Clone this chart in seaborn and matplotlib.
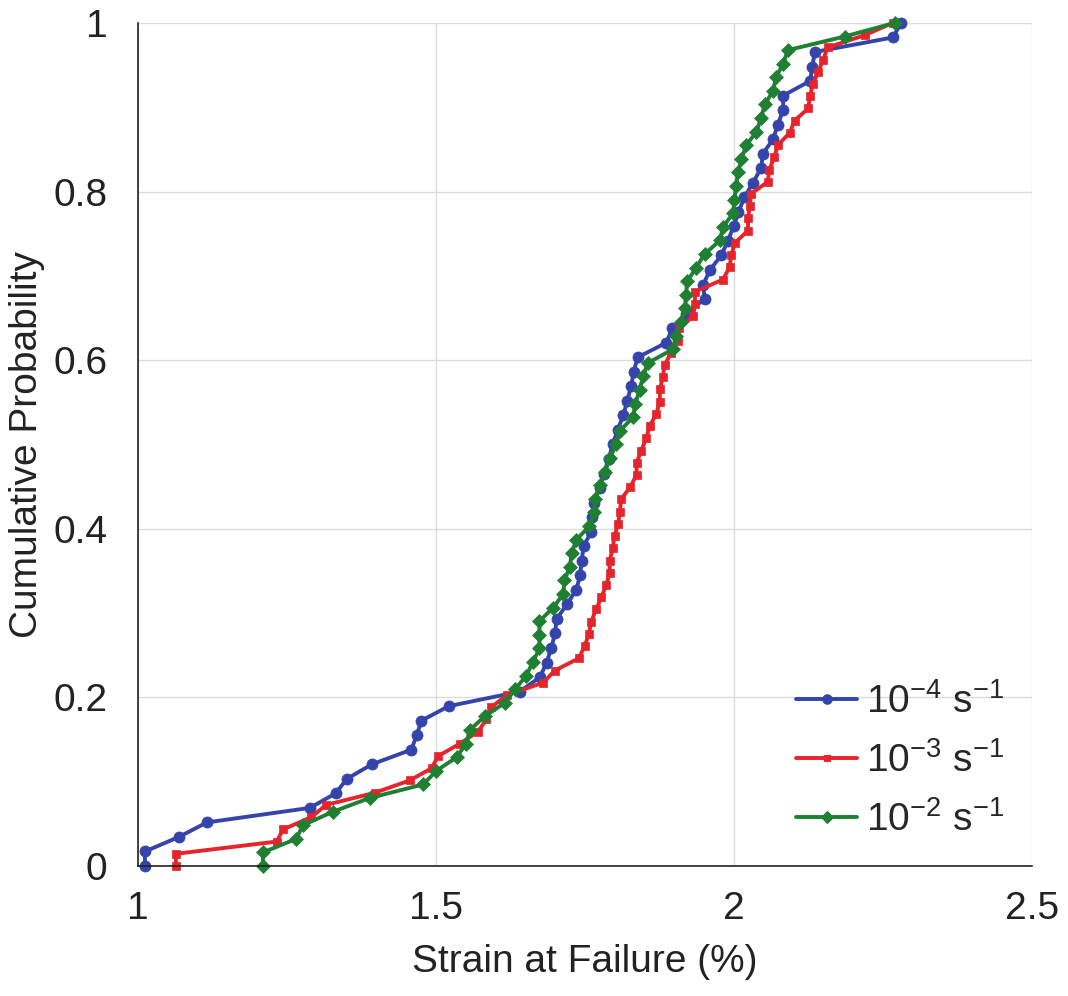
import numpy as np
import pandas as pd
import matplotlib
matplotlib.use("Agg")
import matplotlib.pyplot as plt
import seaborn as sns

# Strain at failure (%) for each strain rate, in cumulative order
strain_1e4 = [1.012, 1.012, 1.069, 1.116, 1.289, 1.332, 1.351, 1.393, 1.459, 1.468,
              1.476, 1.522, 1.641, 1.675, 1.686, 1.694, 1.700, 1.703, 1.720, 1.736,
              1.742, 1.745, 1.748, 1.761, 1.763, 1.765, 1.775, 1.782, 1.790, 1.797,
              1.805, 1.815, 1.821, 1.828, 1.832, 1.839, 1.887, 1.897, 1.920, 1.951,
              1.949, 1.960, 1.979, 1.990, 2.000, 2.008, 2.018, 2.032, 2.046, 2.049,
              2.066, 2.074, 2.083, 2.083, 2.128, 2.132, 2.136, 2.267, 2.281]
strain_1e3 = [1.064, 1.064, 1.233, 1.244, 1.291, 1.316, 1.398, 1.456, 1.493, 1.504,
              1.540, 1.571, 1.585, 1.593, 1.620, 1.680, 1.700, 1.740, 1.750, 1.757,
              1.761, 1.769, 1.778, 1.786, 1.792, 1.792, 1.797, 1.800, 1.806, 1.809,
              1.811, 1.826, 1.837, 1.837, 1.845, 1.853, 1.859, 1.870, 1.876, 1.876,
              1.881, 1.884, 1.895, 1.906, 1.909, 1.932, 1.935, 1.935, 1.982, 1.993,
              1.996, 2.002, 2.024, 2.024, 2.027, 2.029, 2.057, 2.060, 2.068, 2.074,
              2.094, 2.102, 2.125, 2.128, 2.133, 2.142, 2.150, 2.158, 2.220, 2.267]
strain_1e2 = [1.210, 1.210, 1.266, 1.277, 1.328, 1.389, 1.479, 1.501, 1.535, 1.551,
              1.557, 1.582, 1.616, 1.633, 1.652, 1.663, 1.674, 1.674, 1.674, 1.697,
              1.714, 1.716, 1.725, 1.728, 1.736, 1.758, 1.766, 1.768, 1.775, 1.784,
              1.792, 1.803, 1.809, 1.831, 1.835, 1.842, 1.848, 1.856, 1.898, 1.903,
              1.912, 1.918, 1.920, 1.922, 1.937, 1.951, 1.977, 1.982, 1.999, 2.001,
              2.004, 2.007, 2.013, 2.021, 2.038, 2.046, 2.052, 2.066, 2.071, 2.083,
              2.091, 2.186, 2.270]

labels = [r"$10^{-4}$ s$^{-1}$", r"$10^{-3}$ s$^{-1}$", r"$10^{-2}$ s$^{-1}$"]
colors = ["#3444AA", "#E5252B", "#1F8034"]
markers = ["o", "s", "D"]
x_ticks = [1, 1.5, 2, 2.5]
x_ticklabels = ["1", "1.5", "2", "2.5"]
y_ticks = [0, 0.2, 0.4, 0.6, 0.8, 1]
y_ticklabels = ["0", "0.2", "0.4", "0.6", "0.8", "1"]

frames = []
for lab, s in zip(labels, [strain_1e4, strain_1e3, strain_1e2]):
    n = len(s)
    frames.append(pd.DataFrame({
        "strain": s,
        "prob": np.arange(n) / (n - 1),   # empirical cumulative probability
        "rate": lab,
    }))
df = pd.concat(frames, ignore_index=True)

sns.set_style("white")
plt.rcParams["font.family"] = ["Liberation Sans", "DejaVu Sans"]
plt.rcParams["mathtext.fontset"] = "custom"
plt.rcParams["mathtext.rm"] = "Liberation Sans"
plt.rcParams["mathtext.it"] = "Liberation Sans"

fig = plt.figure(figsize=(10.68, 9.96), dpi=100)
ax = fig.add_axes([0.129, 0.1305, 0.837, 0.8465])

sns.lineplot(data=df, x="strain", y="prob", hue="rate", style="rate",
             palette=dict(zip(labels, colors)), markers=dict(zip(labels, markers)),
             dashes=False, estimator=None, sort=False, units="rate",
             linewidth=2.8, ax=ax)

msizes = {"o": 8, "s": 5.5, "D": 7.5}
for line, m, c in zip(ax.lines, markers, colors):
    line.set_markersize(msizes[m])
    line.set_markeredgecolor(c)
    line.set_markerfacecolor(c)
    line.set_markeredgewidth(0.5)
    line.set_clip_on(False)

ax.set_xlim(1, 2.5)
ax.set_ylim(0, 1)
ax.set_xticks(x_ticks)
ax.set_xticklabels(x_ticklabels)
ax.set_yticks(y_ticks)
ax.set_yticklabels(y_ticklabels)
ax.grid(True, color="#dcdcdc", linewidth=1.0)
ax.set_axisbelow(True)
for side in ["top", "right"]:
    ax.spines[side].set_visible(False)
for side in ["left", "bottom"]:
    ax.spines[side].set_color("#222222")
    ax.spines[side].set_linewidth(1.2)
ax.tick_params(direction="in", length=7, width=1.2, labelsize=28, colors="#222222")
ax.tick_params(axis="y", pad=22)
ax.tick_params(axis="x", pad=18)
ax.set_xlabel("Strain at Failure (%)", fontsize=28, color="#222222", labelpad=12)
ax.set_ylabel("Cumulative Probability", fontsize=28, color="#222222", labelpad=6)

handles, labs = ax.get_legend_handles_labels()
for h, m, c in zip(handles, markers, colors):
    h.set_markersize(msizes[m] * 0.85)
    h.set_markeredgecolor(c)
    h.set_markerfacecolor(c)
ax.legend(handles, labs, loc="lower right", frameon=False, fontsize=28,
          handlelength=1.55, handletextpad=0.25, labelspacing=0.55,
          borderaxespad=0.3, bbox_to_anchor=(1.0, 0.0))

fig.savefig("out.png", dpi=100)
